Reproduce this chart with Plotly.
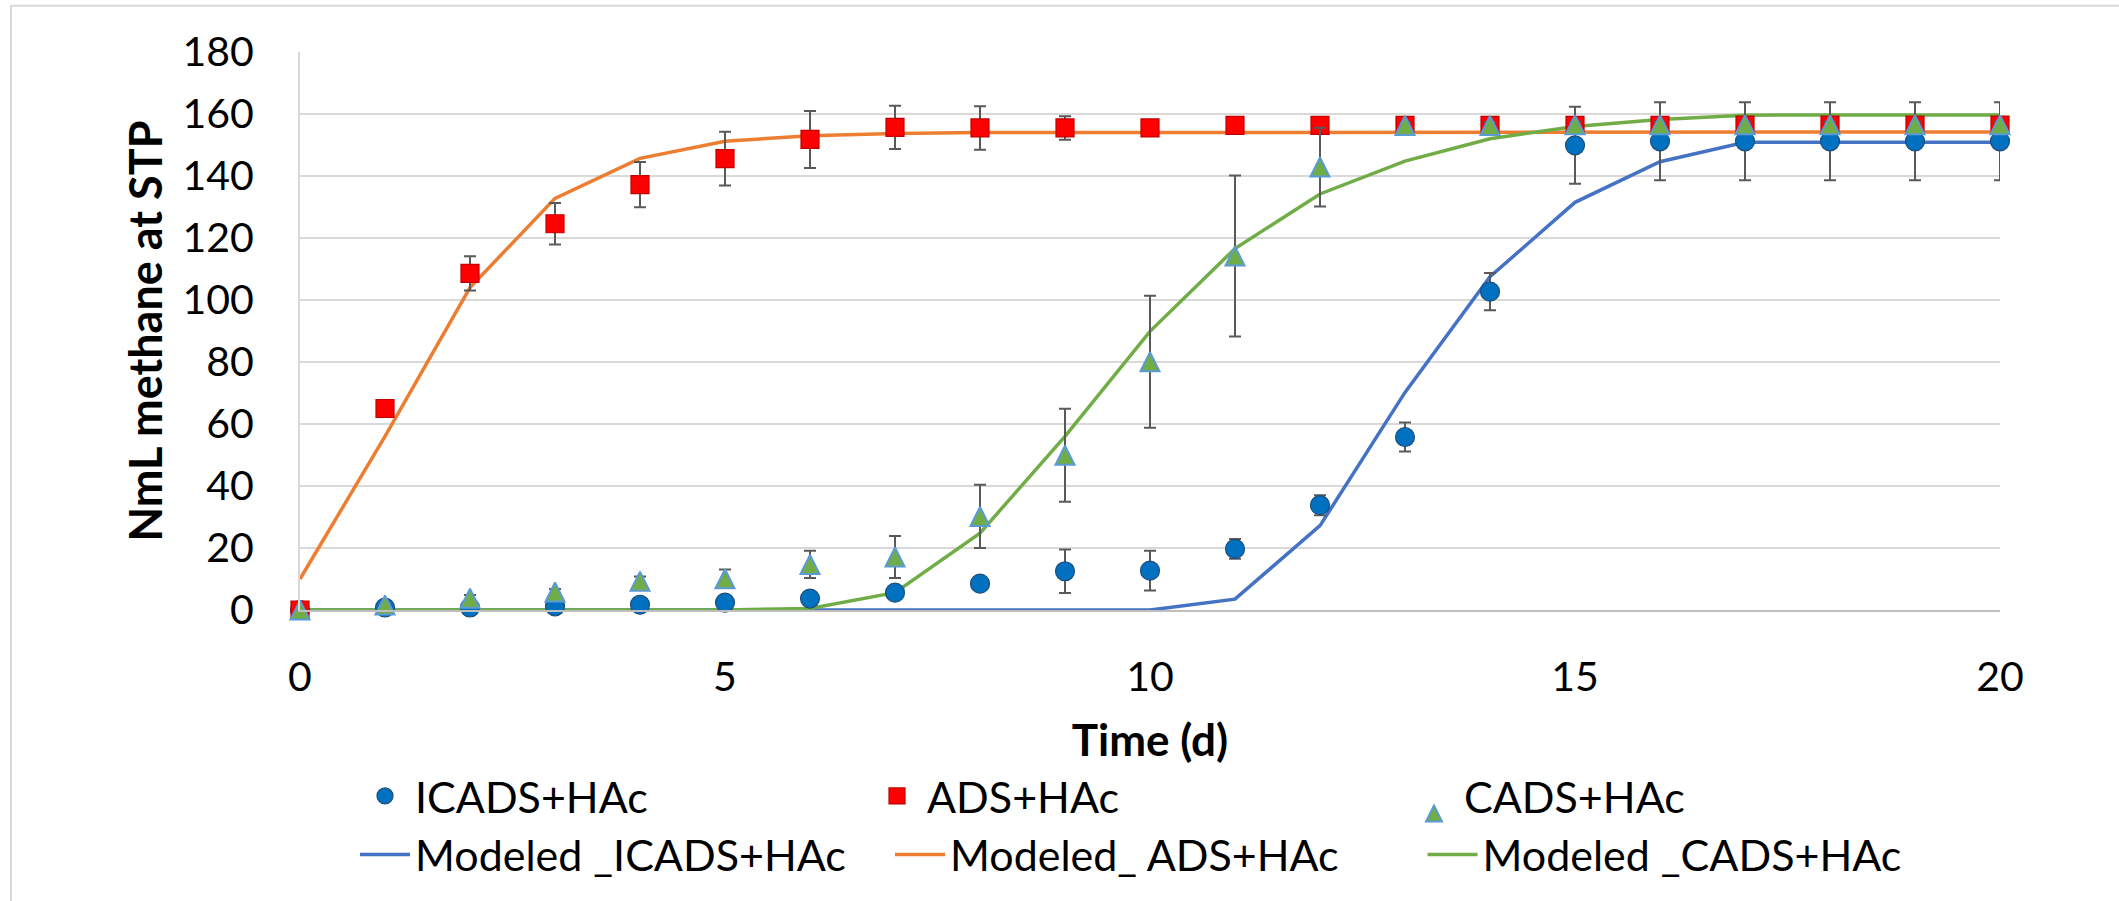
import plotly.graph_objects as go

# ---------------- data ----------------
days = list(range(0, 21))

icads = [0, 0.8, 0.8, 1.2, 1.7, 2.4, 3.7, 5.6, 8.5, 12.5, 12.7, 19.7, 33.8, 55.8, 102.7, 149.9, 151.2, 151.2, 151.2, 151.2, 151.2]
icads_err = [0, 0, 0, 0, 0, 0.5, 0.5, 0.5, 0.5, 7.0, 6.4, 3.2, 3.2, 4.7, 6.0, 12.4, 12.6, 12.6, 12.6, 12.6, 12.6]

ads = [0, 65.0, 108.6, 124.6, 137.2, 145.6, 151.8, 155.7, 155.5, 155.5, 155.5, 156.3, 156.3, 156.3, 156.3, 156.3, 156.3, 156.4, 156.4, 156.4, 156.4]
ads_err = [0, 0, 5.5, 6.7, 7.3, 8.7, 9.2, 7.0, 7.0, 3.8, 0.5, 0, 0, 0, 0, 0, 0, 0, 0, 0, 0]

cads = [0, 1.6, 3.8, 5.8, 9.3, 10.1, 14.7, 17.1, 30.2, 49.9, 80.1, 114.2, 142.9, 156.3, 156.3, 156.5, 156.5, 156.5, 156.5, 156.5, 156.5]
cads_err = [0, 0.5, 1.0, 1.0, 1.5, 3.0, 4.4, 6.8, 10.2, 15.0, 21.3, 26.0, 12.7, 1.0, 1.0, 1.0, 1.0, 1.0, 1.0, 1.0, 1.0]

model_icads = [0, 0, 0, 0, 0, 0, 0, 0, 0, 0, 0, 3.5, 27.2, 70.2, 107.5, 131.5, 144.6, 150.9, 150.9, 150.9, 150.9]
model_ads = [10, 56, 104, 132.8, 145.7, 151.2, 153.0, 153.7, 154.0, 154.0, 154.0, 154.0, 154.0, 154.0, 154.0, 154.0, 154.2, 154.2, 154.2, 154.2, 154.2]
model_cads = [0, 0, 0, 0, 0, 0, 0.5, 5.6, 24.8, 56.0, 89.9, 116.6, 134.2, 144.8, 152.0, 156.0, 158.2, 159.6, 159.7, 159.7, 159.7]

x_ticks = [0, 5, 10, 15, 20]
y_ticks = list(range(0, 181, 20))

FONT = "Lato, 'Open Sans', sans-serif"
FS_TICK = 41
FS_LEG = 43
FS_TITLE = 44

W, H = 2119, 901
L, R, T, B = 300, 119, 51.7, 286.7
pw = W - L - R
ph = H - T - B


def px_x(px):
    return (px - L) / pw


def px_y(py):
    return (H - B - py) / ph


fig = go.Figure()

# model lines first (drawn underneath the markers)
for name, vals, col, leg in [
    ("Modeled _ICADS+HAc", model_icads, "#4472C4", "legend4"),
    ("Modeled_ ADS+HAc", model_ads, "#ED7D31", "legend5"),
    ("Modeled _CADS+HAc", model_cads, "#70AD47", "legend6"),
]:
    fig.add_trace(go.Scatter(x=days, y=vals, mode="lines", name=name, legend=leg,
                             line=dict(color=col, width=3.5)))

err_style = dict(type="data", thickness=2, width=6, color="#595959")

fig.add_trace(go.Scatter(
    x=days, y=icads, mode="markers", name="ICADS+HAc", legend="legend", cliponaxis=False,
    marker=dict(symbol="circle", size=19, color="#0070C0", line=dict(color="#1F4E79", width=1.2)),
    error_y=dict(array=icads_err, **err_style)))

fig.add_trace(go.Scatter(
    x=days, y=ads, mode="markers", name="ADS+HAc", legend="legend2", cliponaxis=False,
    marker=dict(symbol="square", size=18, color="#FF0000", line=dict(color="#C00000", width=1.2)),
    error_y=dict(array=ads_err, **err_style)))

fig.add_trace(go.Scatter(
    x=days, y=cads, mode="markers", name="CADS+HAc", legend="legend3", cliponaxis=False,
    marker=dict(symbol="arrow-down", angle=180, standoff=9.5, size=19, color="#70AD47",
                line=dict(color="#5B9BD5", width=2)),
    error_y=dict(array=cads_err, **err_style)))

leg_common = dict(orientation="h", xanchor="left", yanchor="top",
                  itemwidth=50, font=dict(family=FONT, size=FS_LEG, color="black"),
                  bgcolor="rgba(0,0,0,0)")

row1_x = [355, 867, 1404]
row2_x = [355, 890, 1422.5]
row_y = [767, 826]

fig.update_layout(
    width=W, height=H,
    margin=dict(l=L, r=R, t=T, b=B, pad=0),
    paper_bgcolor="white", plot_bgcolor="white",
    font=dict(family=FONT, size=FS_TICK, color="black"),
    showlegend=True,
    legend=dict(x=px_x(row1_x[0]), y=px_y(row_y[0]), **leg_common),
    legend2=dict(x=px_x(row1_x[1]), y=px_y(row_y[0]), **leg_common),
    legend3=dict(x=px_x(row1_x[2]), y=px_y(row_y[0]), **leg_common),
    legend4=dict(x=px_x(row2_x[0]), y=px_y(row_y[1]), **leg_common),
    legend5=dict(x=px_x(row2_x[1]), y=px_y(row_y[1]), **leg_common),
    legend6=dict(x=px_x(row2_x[2]), y=px_y(row_y[1]), **leg_common),
    xaxis=dict(range=[0, 20], tickvals=x_ticks, showgrid=False, zeroline=False,
               showline=True, linecolor="#BFBFBF", linewidth=2, ticks="",
               ticklabelstandoff=30,
               title=dict(text="Time (d)", font=dict(family=FONT, size=FS_TITLE, weight="bold"), standoff=26)),
    yaxis=dict(range=[0, 180], tickvals=y_ticks, showgrid=True, gridcolor="#D9D9D9", gridwidth=2,
               zeroline=False, showline=True, linecolor="#D9D9D9", linewidth=2, ticks="",
               ticklabelstandoff=36,
               title=dict(text="NmL methane at STP", font=dict(family=FONT, size=45, weight="bold"), standoff=6)),
    shapes=[dict(type="rect", xref="paper", yref="paper",
                 x0=px_x(11), x1=px_x(2135), y0=px_y(920), y1=px_y(5),
                 line=dict(color="#D9D9D9", width=2), fillcolor="rgba(0,0,0,0)", layer="below")],
)

fig.write_html("out.html", config={"displayModeBar": False},
               post_script="document.body.style.margin='0';document.body.style.overflow='hidden';")
